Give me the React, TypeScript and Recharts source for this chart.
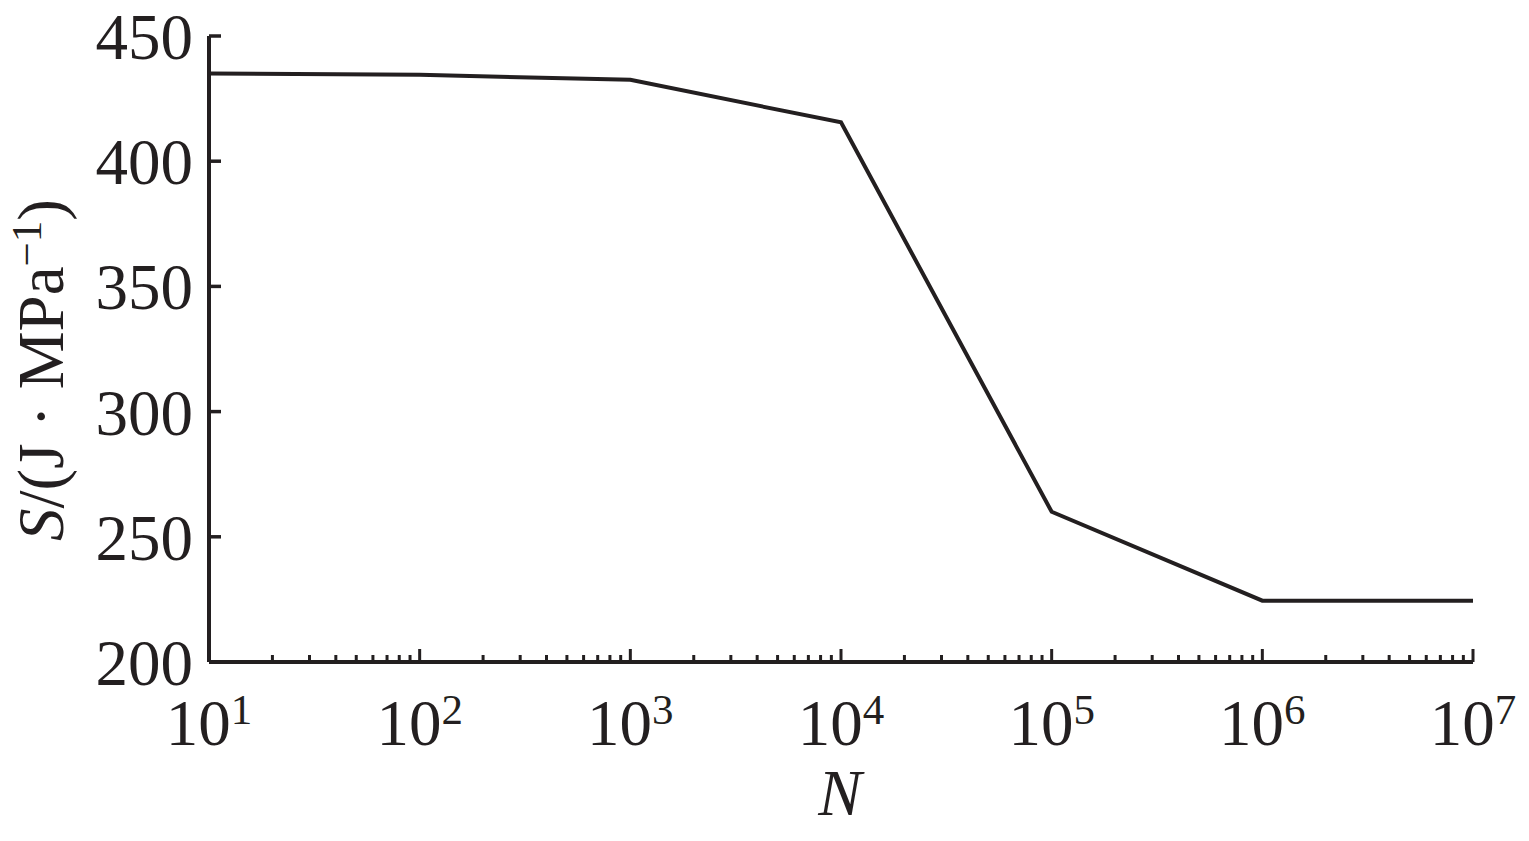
import React from 'react';
import { LineChart, Line, XAxis, YAxis, Label } from 'recharts';

const cycles = [10, 100, 1000, 10000, 100000, 1000000, 10000000];
const energyDensity = [435, 434.5, 432.5, 415.5, 260, 224.5, 224.5];
const yTicks = [200, 250, 300, 350, 400, 450];
const decadeExponents = [1, 2, 3, 4, 5, 6];
const minorMultipliers = [1, 2, 3, 4, 5, 6, 7, 8, 9];

const data = cycles.map((n, i) => ({ n, s: energyDensity[i] }));
const xTicks: number[] = [];
decadeExponents.forEach((e) => {
  minorMultipliers.forEach((m) => xTicks.push(m * Math.pow(10, e)));
});
xTicks.push(1e7);

const INK = '#231f20';
const FONT = '"Liberation Serif", "Times New Roman", serif';

const XTick = (props: any) => {
  const { x, y, payload } = props;
  const v = payload.value as number;
  const lg = Math.log10(v);
  const isMajor = Math.abs(lg - Math.round(lg)) < 1e-9;
  const len = isMajor ? 13 : 7;
  return (
    <g>
      <line x1={x} x2={x} y1={y} y2={y - len} stroke={INK} strokeWidth={3} />
      {isMajor && (
        <text x={x} y={y + 83} textAnchor="middle" fill={INK} fontFamily={FONT} fontSize={65}>
          <tspan>10</tspan>
          <tspan fontSize={43} dy={-21}>{Math.round(lg)}</tspan>
        </text>
      )}
    </g>
  );
};

const YTick = (props: any) => {
  const { x, y, payload } = props;
  return (
    <g>
      <line x1={x} x2={x + 12} y1={y} y2={y} stroke={INK} strokeWidth={3.5} />
      <text x={x - 16} y={y + 23} textAnchor="end" fill={INK} fontFamily={FONT} fontSize={65}>
        {payload.value}
      </text>
    </g>
  );
};

const YLabel = () => (
  <text transform="translate(63,370) rotate(-90)" textAnchor="middle" fill={INK} fontFamily={FONT} fontSize={65}>
    <tspan fontStyle="italic">S</tspan>
    <tspan>/(J · MPa</tspan>
    <tspan fontSize={43} dy={-22}>−1</tspan>
    <tspan dy={22}>)</tspan>
  </text>
);

const XLabel = () => (
  <text x={840} y={815} textAnchor="middle" fill={INK} fontFamily={FONT} fontSize={65} fontStyle="italic">
    N
  </text>
);

export default function App() {
  return (
    <div style={{ position: 'absolute', left: 0, top: 0, width: 1529, height: 841, background: '#fff' }}>
      <LineChart width={1529} height={841} data={data} margin={{ top: 36, right: 56, bottom: 0, left: 0 }}>
        <XAxis
          dataKey="n"
          type="number"
          scale="log"
          domain={[10, 1e7]}
          ticks={xTicks}
          interval={0}
          tick={<XTick />}
          tickLine={false}
          tickSize={0}
          tickMargin={0}
          axisLine={{ stroke: INK, strokeWidth: 4 }}
          height={179}
          allowDataOverflow
        >
          <Label content={<XLabel />} />
        </XAxis>
        <YAxis
          type="number"
          domain={[200, 450]}
          ticks={yTicks}
          interval={0}
          tick={<YTick />}
          tickLine={false}
          tickSize={0}
          tickMargin={0}
          axisLine={{ stroke: INK, strokeWidth: 4 }}
          width={209}
          allowDataOverflow
        >
          <Label content={<YLabel />} />
        </YAxis>
        <Line
          type="linear"
          dataKey="s"
          stroke={INK}
          strokeWidth={4}
          dot={false}
          isAnimationActive={false}
        />
      </LineChart>
    </div>
  );
}
